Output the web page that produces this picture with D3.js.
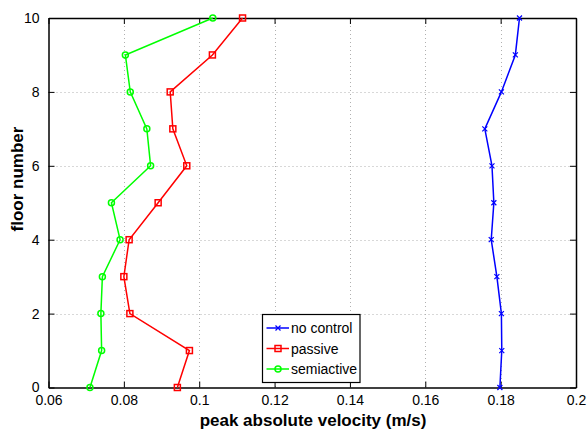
<!DOCTYPE html>
<html>
<head>
<meta charset="utf-8">
<script src="https://cdn.jsdelivr.net/npm/d3@7"></script>
<style>
  body { margin: 0; background: #fff; }
  svg text { font-family: "Liberation Sans", Arial, sans-serif; }
</style>
</head>
<body>
<svg id="chart" width="587" height="432"></svg>
<script>
// floors 0..10
var floors = [0, 1, 2, 3, 4, 5, 6, 7, 8, 9, 10];

var noControl = [0.1798, 0.1803, 0.1802, 0.1790, 0.1775, 0.1782, 0.1777, 0.1758, 0.1802, 0.1839, 0.1850];
var passive = [0.0942, 0.0974, 0.0816, 0.0800, 0.0814, 0.0891, 0.0967, 0.0930, 0.0923, 0.1035, 0.1115];
var semiactive = [0.0710, 0.0741, 0.0739, 0.0743, 0.0790, 0.0767, 0.0871, 0.0861, 0.0817, 0.0804, 0.1036];

var xTicks = [0.06, 0.08, 0.1, 0.12, 0.14, 0.16, 0.18, 0.2];
var yTicks = [0, 2, 4, 6, 8, 10];

var seriesNames = ["no control", "passive", "semiactive"];

var svg = d3.select("#chart");
var plotLeft = 48.5, plotRight = 576, plotTop = 18, plotBottom = 387.5;

var x = d3.scaleLinear().domain([0.06, 0.2]).range([plotLeft, plotRight]);
var y = d3.scaleLinear().domain([0, 10]).range([plotBottom, plotTop]);

// grid
var grid = svg.append("g")
    .attr("stroke", "#b0b0b0")
    .attr("stroke-width", 1)
    .attr("stroke-dasharray", "1,3");
grid.selectAll("line.vx").data(xTicks.slice(1, -1)).enter().append("line")
    .attr("x1", function(d) { return Math.round(x(d)) + 0.5; })
    .attr("x2", function(d) { return Math.round(x(d)) + 0.5; })
    .attr("y1", plotTop).attr("y2", plotBottom);
grid.selectAll("line.hy").data(yTicks.slice(1, -1)).enter().append("line")
    .attr("y1", function(d) { return Math.round(y(d)) + 0.5; })
    .attr("y2", function(d) { return Math.round(y(d)) + 0.5; })
    .attr("x1", plotLeft).attr("x2", plotRight);

// axes (ticks pointing inward, box style)
function tickFmt(d) { return String(+d.toFixed(2)); }

var xAxis = svg.append("g")
    .attr("transform", "translate(0," + plotBottom + ")")
    .call(d3.axisBottom(x).tickValues(xTicks).tickSizeInner(-6).tickSizeOuter(0).tickPadding(9).tickFormat(tickFmt));
svg.append("g")
    .attr("transform", "translate(0," + plotTop + ")")
    .call(d3.axisTop(x).tickValues(xTicks).tickSizeInner(-6).tickSizeOuter(0).tickFormat(""));
var yAxis = svg.append("g")
    .attr("transform", "translate(" + plotLeft + ",0)")
    .call(d3.axisLeft(y).tickValues(yTicks).tickSizeInner(-6).tickSizeOuter(0).tickPadding(9).tickFormat(tickFmt));
svg.append("g")
    .attr("transform", "translate(" + plotRight + ",0)")
    .call(d3.axisRight(y).tickValues(yTicks).tickSizeInner(-6).tickSizeOuter(0).tickFormat(""));

svg.selectAll(".domain").attr("stroke", "#000").attr("stroke-width", 1.5);
svg.selectAll(".tick line").attr("stroke", "#000");
svg.selectAll(".tick text").attr("font-size", 14).attr("fill", "#000")
    .attr("font-family", "Liberation Sans, Arial, sans-serif");
xAxis.selectAll(".tick text").attr("dy", "0.6em");

// axis titles
svg.append("text")
    .attr("x", 313).attr("y", 425.5)
    .attr("text-anchor", "middle")
    .attr("font-size", 17).attr("font-weight", "bold")
    .text("peak absolute velocity (m/s)");
svg.append("text")
    .attr("transform", "translate(23,179) rotate(-90)")
    .attr("text-anchor", "middle")
    .attr("font-size", 17).attr("font-weight", "bold")
    .text("floor number");

var line = d3.line()
    .x(function(d) { return x(d[0]); })
    .y(function(d) { return y(d[1]); });

function pairs(vals) {
    return vals.map(function(v, i) { return [v, floors[i]]; });
}

function drawMarker(g, type, color, cx, cy) {
    if (type === "x") {
        g.append("path")
            .attr("d", "M" + (cx - 2.5) + "," + (cy - 2.5) + "L" + (cx + 2.5) + "," + (cy + 2.5) +
                       "M" + (cx - 2.5) + "," + (cy + 2.5) + "L" + (cx + 2.5) + "," + (cy - 2.5))
            .attr("stroke", color).attr("stroke-width", 1.2).attr("fill", "none");
    } else if (type === "square") {
        g.append("rect")
            .attr("x", cx - 3).attr("y", cy - 3).attr("width", 6).attr("height", 6)
            .attr("stroke", color).attr("stroke-width", 1.5).attr("fill", "none");
    } else {
        g.append("circle")
            .attr("cx", cx).attr("cy", cy).attr("r", 3)
            .attr("stroke", color).attr("stroke-width", 1.5).attr("fill", "none");
    }
}

var series = [
    { name: seriesNames[0], values: noControl, color: "#0000ff", marker: "x" },
    { name: seriesNames[1], values: passive, color: "#ff0000", marker: "square" },
    { name: seriesNames[2], values: semiactive, color: "#00ff00", marker: "circle" }
];

series.forEach(function(s) {
    var g = svg.append("g");
    g.append("path")
        .attr("d", line(pairs(s.values)))
        .attr("fill", "none")
        .attr("stroke", s.color)
        .attr("stroke-width", 1.5);
    pairs(s.values).forEach(function(p) {
        drawMarker(g, s.marker, s.color, x(p[0]), y(p[1]));
    });
});

// legend
var lg = svg.append("g");
lg.append("rect")
    .attr("x", 262.5).attr("y", 314.5).attr("width", 97.5).attr("height", 68)
    .attr("fill", "#fff").attr("stroke", "#000").attr("stroke-width", 1.2);
series.forEach(function(s, i) {
    var ly = 328 + i * 20.5;
    lg.append("line")
        .attr("x1", 266.5).attr("x2", 289).attr("y1", ly).attr("y2", ly)
        .attr("stroke", s.color).attr("stroke-width", 1.5);
    drawMarker(lg, s.marker, s.color, 278, ly);
    lg.append("text")
        .attr("x", 291).attr("y", ly + 5)
        .attr("font-size", 14)
        .text(s.name);
});
</script>
</body>
</html>
